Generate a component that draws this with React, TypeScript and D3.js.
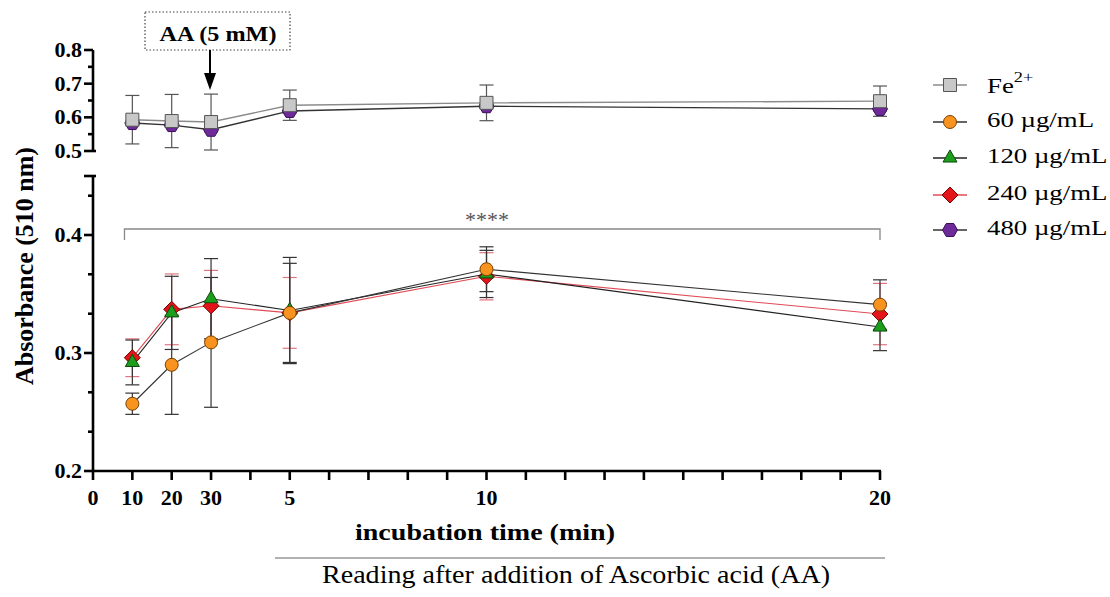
import React from "react";
import * as d3 from "d3";

// ---------- data ----------
const xIdx = [1, 2, 3, 5, 10, 20];
const xTickLabelPos = [0, 1, 2, 3, 5, 10, 20];
const xTickLabelText = ["0", "10", "20", "30", "5", "10", "20"];

const feMean = [0.593, 0.589, 0.586, 0.636, 0.643, 0.648];
const feErr = [0.072, 0.079, 0.083, 0.045, 0.053, 0.045];
const c480Mean = [0.583, 0.577, 0.563, 0.619, 0.633, 0.625];
const c480Err = [0.006, 0.006, 0.006, 0.006, 0.006, 0.006];
const c60Mean = [0.257, 0.29, 0.309, 0.334, 0.371, 0.341];
const c60Err = [0.009, 0.042, 0.055, 0.042, 0.019, 0.021];
const c120Mean = [0.292, 0.334, 0.346, 0.336, 0.367, 0.322];
const c120Err = [0.019, 0.031, 0.034, 0.045, 0.02, 0.02];
const c240Mean = [0.296, 0.337, 0.34, 0.334, 0.365, 0.333];
const c240Err = [0.016, 0.03, 0.03, 0.03, 0.02, 0.026];

const lowTicksMajor = [0.2, 0.3, 0.4];
const lowTicksMinor = [0.2333, 0.2667, 0.3333, 0.3667, 0.4333];
const upTicksMajor = [0.5, 0.6, 0.7, 0.8];
const upTicksMinor = [0.55, 0.65, 0.75];

const legendLabels = ["Fe", "60 µg/mL", "120 µg/mL", "240 µg/mL", "480 µg/mL"];

// ---------- layout ----------
const FONT = "'Liberation Serif', 'Times New Roman', serif";
const x = d3.scaleLinear().domain([0, 20]).range([93, 880]);
const yLow = d3.scaleLinear().domain([0.2, 0.45]).range([471, 176]);
const yUp = d3.scaleLinear().domain([0.5, 0.8]).range([151, 50]);
const AXIS_X = 93;

type Shape = "square" | "circle" | "triangle" | "diamond" | "hexagon";

function markerPath(shape: Shape, cx: number, cy: number): string {
  const p = d3.path();
  if (shape === "square") {
    const h = 6.5;
    p.rect(cx - h, cy - h, 2 * h, 2 * h);
  } else if (shape === "circle") {
    p.arc(cx, cy, 6.5, 0, Math.PI * 2);
  } else if (shape === "triangle") {
    const s = 14;
    const hgt = (s * Math.sqrt(3)) / 2;
    p.moveTo(cx, cy - (2 * hgt) / 3);
    p.lineTo(cx + s / 2, cy + hgt / 3);
    p.lineTo(cx - s / 2, cy + hgt / 3);
    p.closePath();
  } else if (shape === "diamond") {
    const r = 8;
    p.moveTo(cx, cy - r);
    p.lineTo(cx + r, cy);
    p.lineTo(cx, cy + r);
    p.lineTo(cx - r, cy);
    p.closePath();
  } else {
    const r = 7.5;
    for (let i = 0; i < 6; i++) {
      const a = (Math.PI / 3) * i;
      const px = cx + r * Math.cos(a);
      const py = cy + r * Math.sin(a);
      if (i === 0) p.moveTo(px, py);
      else p.lineTo(px, py);
    }
    p.closePath();
  }
  return p.toString();
}

interface Series {
  name: string;
  mean: number[];
  err: number[];
  shape: Shape;
  fill: string;
  stroke: string;
  line: string;
  lineW: number;
  errColor: string;
  panel: "up" | "low";
}

const fe: Series = { name: "Fe", mean: feMean, err: feErr, shape: "square", fill: "#c8c8c8", stroke: "#555", line: "#8a8a8a", lineW: 1.4, errColor: "#555", panel: "up" };
const s60: Series = { name: "60", mean: c60Mean, err: c60Err, shape: "circle", fill: "#f7931e", stroke: "#7a4000", line: "#333", lineW: 1.1, errColor: "#333", panel: "low" };
const s120: Series = { name: "120", mean: c120Mean, err: c120Err, shape: "triangle", fill: "#1c9e1c", stroke: "#0c4a0c", line: "#222", lineW: 1.1, errColor: "#333", panel: "low" };
const s240: Series = { name: "240", mean: c240Mean, err: c240Err, shape: "diamond", fill: "#e3141a", stroke: "#7a0000", line: "#e04a55", lineW: 1.1, errColor: "#e07580", panel: "low" };
const s480: Series = { name: "480", mean: c480Mean, err: c480Err, shape: "hexagon", fill: "#6f2a9a", stroke: "#3a0f5a", line: "#333", lineW: 1.4, errColor: "#444", panel: "up" };

const legendSeries = [fe, s60, s120, s240, s480];
const drawOrder = [s480, fe, s240, s120, s60];

function SeriesMarks({ s, part }: { s: Series; part: "line" | "err" | "marker" }) {
  const y = s.panel === "up" ? yUp : yLow;
  const pts = xIdx.map((xi, i) => [x(xi), y(s.mean[i])] as [number, number]);
  if (part === "line") {
    const line = d3.line();
    return <path d={line(pts) || ""} fill="none" stroke={s.line} strokeWidth={s.lineW} />;
  }
  if (part === "err") {
    const cap = 7;
    return (
      <g stroke={s.errColor} strokeWidth={1.2}>
        {xIdx.map((xi, i) => {
          const cx = x(xi);
          const t = y(s.mean[i] + s.err[i]);
          const b = y(s.mean[i] - s.err[i]);
          return (
            <g key={i}>
              <line x1={cx} x2={cx} y1={t} y2={b} />
              <line x1={cx - cap} x2={cx + cap} y1={t} y2={t} />
              <line x1={cx - cap} x2={cx + cap} y1={b} y2={b} />
            </g>
          );
        })}
      </g>
    );
  }
  return (
    <g>
      {pts.map(([px, py], i) => (
        <path key={i} d={markerPath(s.shape, px, py)} fill={s.fill} stroke={s.stroke} strokeWidth={1} />
      ))}
    </g>
  );
}

function SText({ x: tx, y: ty, sx = 1, anchor = "start", size, weight = "normal", fill = "#000", children }: any) {
  return (
    <g transform={`translate(${tx},${ty}) scale(${sx},1)`}>
      <text textAnchor={anchor} fontFamily={FONT} fontSize={size} fontWeight={weight} fill={fill}>
        {children}
      </text>
    </g>
  );
}

export default function App() {
  const legendRowY = [85, 122, 158, 195, 230];
  return (
    <svg width={1110} height={597} style={{ position: "absolute", left: 0, top: 0, background: "#fff" }}>
      <rect x={0} y={0} width={1110} height={597} fill="#fff" />

      {/* annotation */}
      <rect x={145} y={12} width={145} height={38} fill="none" stroke="#444" strokeWidth={1.2} strokeDasharray="1.5,2" />
      <SText x={218} y={41} sx={1.1} anchor="middle" size={22} weight="bold">AA (5 mM)</SText>
      <line x1={210} x2={210} y1={50} y2={74} stroke="#000" strokeWidth={2} />
      <path d={`M204,73 L216,73 L210,90 Z`} fill="#000" />

      {/* upper y axis */}
      <g stroke="#000" strokeWidth={2.6}>
        <line x1={AXIS_X} x2={AXIS_X} y1={yUp(0.8)} y2={yUp(0.5)} />
        {upTicksMajor.map((t) => (
          <line key={t} x1={AXIS_X - 9} x2={AXIS_X} y1={yUp(t)} y2={yUp(t)} />
        ))}
        <line x1={AXIS_X} x2={AXIS_X + 3} y1={yUp(0.5)} y2={yUp(0.5)} />
        {upTicksMinor.map((t) => (
          <line key={t} x1={AXIS_X - 5} x2={AXIS_X} y1={yUp(t)} y2={yUp(t)} />
        ))}
      </g>
      {upTicksMajor.map((t) => (
        <text key={t} x={82} y={yUp(t) + 7} textAnchor="end" fontFamily={FONT} fontSize={22} fontWeight="bold">
          {d3.format(".1f")(t)}
        </text>
      ))}

      {/* lower y axis */}
      <g stroke="#000" strokeWidth={2.6}>
        <line x1={AXIS_X} x2={AXIS_X} y1={yLow(0.45)} y2={yLow(0.2)} />
        {lowTicksMajor.map((t) => (
          <line key={t} x1={AXIS_X - 9} x2={AXIS_X} y1={yLow(t)} y2={yLow(t)} />
        ))}
        <line x1={AXIS_X - 9} x2={AXIS_X + 3} y1={yLow(0.45)} y2={yLow(0.45)} />
        {lowTicksMinor.map((t) => (
          <line key={t} x1={AXIS_X - 5} x2={AXIS_X} y1={yLow(t)} y2={yLow(t)} />
        ))}
      </g>
      {lowTicksMajor.map((t) => (
        <text key={t} x={82} y={yLow(t) + 7} textAnchor="end" fontFamily={FONT} fontSize={22} fontWeight="bold">
          {d3.format(".1f")(t)}
        </text>
      ))}

      {/* x axis */}
      <g stroke="#000" strokeWidth={2.6}>
        <line x1={AXIS_X - 1} x2={x(20) + 1} y1={yLow(0.2)} y2={yLow(0.2)} />
        {d3.range(0, 21).map((i) => (
          <line key={i} x1={x(i)} x2={x(i)} y1={yLow(0.2)} y2={yLow(0.2) + 9} />
        ))}
      </g>
      {xTickLabelPos.map((p, i) => (
        <SText key={i} x={x(p)} y={505} sx={1.1} anchor="middle" size={20} weight="bold">
          {xTickLabelText[i]}
        </SText>
      ))}

      {/* axis titles */}
      <text x={485} y={540} textAnchor="middle" fontFamily={FONT} fontSize={24} fontWeight="bold" textLength={260} lengthAdjust="spacingAndGlyphs">
        incubation time (min)
      </text>
      <line x1={275} x2={885} y1={558} y2={558} stroke="#999" strokeWidth={1.5} />
      <text x={576} y={583} textAnchor="middle" fontFamily={FONT} fontSize={25} textLength={508} lengthAdjust="spacingAndGlyphs">
        Reading after addition of Ascorbic acid (AA)
      </text>
      <text transform="translate(33,266) rotate(-90)" textAnchor="middle" fontFamily={FONT} fontSize={25} fontWeight="bold" textLength={238} lengthAdjust="spacingAndGlyphs">
        Absorbance (510 nm)
      </text>

      {/* significance bracket */}
      <path d={`M${x(0.8)},240 L${x(0.8)},229 L${x(20)},229 L${x(20)},240`} fill="none" stroke="#888" strokeWidth={1.3} />
      <SText x={487} y={227} sx={1.1} anchor="middle" size={20} fill="#555">****</SText>

      {/* series */}
      {drawOrder.map((s) => <SeriesMarks key={s.name + "l"} s={s} part="line" />)}
      {drawOrder.map((s) => <SeriesMarks key={s.name + "e"} s={s} part="err" />)}
      {drawOrder.map((s) => <SeriesMarks key={s.name + "m"} s={s} part="marker" />)}

      {/* legend */}
      {legendSeries.map((s, i) => {
        const cy = legendRowY[i];
        return (
          <g key={s.name}>
            <line x1={933} x2={967} y1={cy} y2={cy} stroke={s.line} strokeWidth={1.3} />
            <path d={markerPath(s.shape, 950, cy)} fill={s.fill} stroke={s.stroke} strokeWidth={1} />
            {i === 0 ? (
              <SText x={987} y={cy + 8} sx={1.22} size={22}>
                {legendLabels[i]}
                <tspan fontSize={15} dy={-11}>2+</tspan>
              </SText>
            ) : (
              <SText x={987} y={cy + 5} sx={1.22} size={22}>
                {legendLabels[i]}
              </SText>
            )}
          </g>
        );
      })}
    </svg>
  );
}
